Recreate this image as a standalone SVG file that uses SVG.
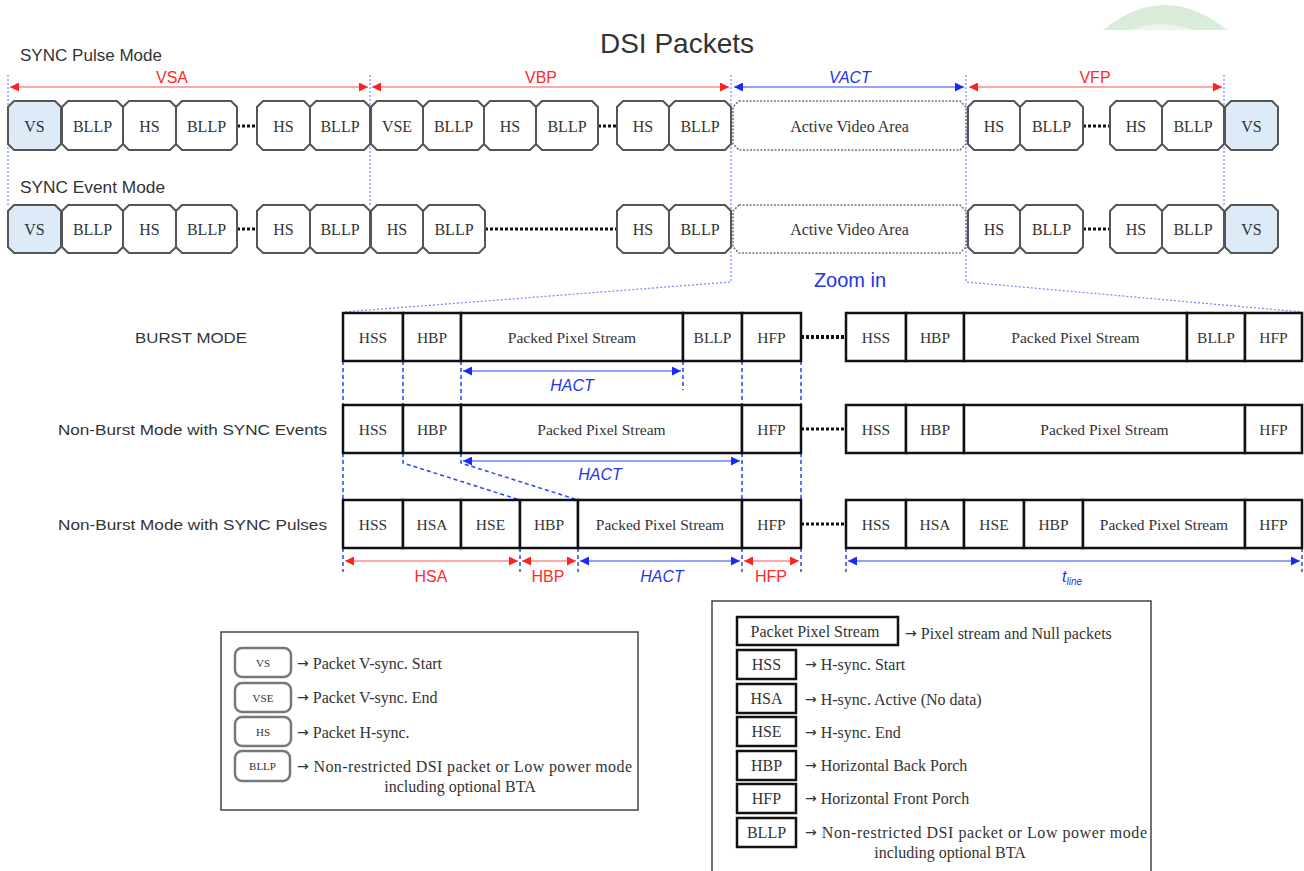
<svg xmlns="http://www.w3.org/2000/svg" width="1304" height="871" viewBox="0 0 1304 871">
<style>
.ob{fill:#fff;stroke:#555;stroke-width:2}
.vs{fill:#ddebf8;stroke:#555;stroke-width:2}
.av{fill:#fff;stroke:#777;stroke-width:1.6;stroke-dasharray:2 1.5}
.bt{font-family:"Liberation Serif","Times New Roman",serif;font-size:16px;fill:#333;text-anchor:middle;dominant-baseline:central}
.zb{fill:#fff;stroke:#111;stroke-width:2.5}
.zt{font-family:"Liberation Serif","Times New Roman",serif;font-size:15.5px;fill:#333;text-anchor:middle;dominant-baseline:central}
.sans{font-family:"Liberation Sans",Arial,sans-serif;fill:#333}
.red{font-family:"Liberation Sans",Arial,sans-serif;font-size:16px;fill:#ff2a2a;text-anchor:middle}
.blu{font-family:"Liberation Sans",Arial,sans-serif;font-size:16px;fill:#2233ee;text-anchor:middle;font-style:italic}
.dots{stroke:#111;stroke-width:3;stroke-dasharray:3 2;fill:none}
.guide{stroke:#6f86ff;stroke-width:1.2;stroke-dasharray:2 2;fill:none}
.dash{stroke:#2244ff;stroke-width:1.5;stroke-dasharray:4 3;fill:none}
.ar{stroke:#ff5050;stroke-width:1.2;fill:none;marker-start:url(#mr);marker-end:url(#mr)}
.ab{stroke:#3344ff;stroke-width:1.2;fill:none;marker-start:url(#mb);marker-end:url(#mb)}
.lg{fill:#fff;stroke:#444;stroke-width:1.5}
.lb{fill:#fff;stroke:#777;stroke-width:2.5}
.lz{fill:#fff;stroke:#111;stroke-width:2.5}
.lt{font-family:"Liberation Serif","Times New Roman",serif;font-size:16px;fill:#333;dominant-baseline:central}
.arw{font-family:"DejaVu Sans",sans-serif;font-size:14px}
.lst{font-family:"Liberation Serif","Times New Roman",serif;font-size:11px;fill:#333;text-anchor:middle;dominant-baseline:central}
</style>
<defs>
<marker id="mr" viewBox="0 0 10 10" refX="10" refY="5" markerWidth="11" markerHeight="9" markerUnits="userSpaceOnUse" orient="auto-start-reverse"><path d="M0,0L10,5L0,10z" fill="#ff2020"/></marker>
<marker id="mb" viewBox="0 0 10 10" refX="10" refY="5" markerWidth="11" markerHeight="9" markerUnits="userSpaceOnUse" orient="auto-start-reverse"><path d="M0,0L10,5L0,10z" fill="#1a2aff"/></marker>
</defs>
<rect width="1304" height="871" fill="#fff"/>
<g id="watermark">
<path d="M1103,30 Q1165,-20 1227,30 Z" fill="#d9ecd9"/>
<path d="M1130,30 Q1162,18 1192,30 Z" fill="#eef3ee"/>
</g>
<text x="677" y="53" class="sans" font-size="28" text-anchor="middle" fill="#222">DSI Packets</text>
<text x="20" y="61" class="sans" font-size="16" textLength="142" lengthAdjust="spacingAndGlyphs">SYNC Pulse Mode</text>
<text x="20" y="193" class="sans" font-size="16" textLength="145" lengthAdjust="spacingAndGlyphs">SYNC Event Mode</text>
<text x="850" y="287" class="sans" font-size="20" text-anchor="middle" style="fill:#2233ee">Zoom in</text>

<g id="connectors">
<path class="guide" d="M8,75V205M370,75V205M731,75V282L343,312M966,75V282L1302,312M1224,75V205"/>
<line class="ar" x1="10" y1="87" x2="368" y2="87"/>
<line class="ar" x1="372" y1="87" x2="729" y2="87"/>
<line class="ab" x1="734" y1="87" x2="964" y2="87"/>
<line class="ar" x1="969" y1="87" x2="1222" y2="87"/>
<text class="red" x="172" y="83">VSA</text>
<text class="red" x="541" y="83">VBP</text>
<text class="blu" x="850" y="83">VACT</text>
<text class="red" x="1095" y="83">VFP</text>
<path class="dots" d="M237,126H257M598,126H617M1083,126H1110M237,229H257M485,229H617M1083,229H1110"/>
<path class="dots" d="M801,337H845" style="stroke-width:4"/>
<path class="dots" d="M801,429H845M801,524H845"/>
<path class="dash" d="M343,361V405M403,361V405M461,361V405M742,361V405M801,361V405M683,361V390"/>
<path class="dash" d="M343,453V500M742,453V500M801,453V500M403,453V463L520,500M461,453V463L578,500"/>
<path class="dash" d="M343,548V572M520,548V572M578,548V572M742,548V572M801,548V572M846,548V572M1302,548V572"/>
<line class="ab" x1="463" y1="371" x2="681" y2="371"/>
<line class="ab" x1="463" y1="461" x2="740" y2="461"/>
<line class="ar" x1="345" y1="561" x2="518" y2="561"/>
<line class="ar" x1="522" y1="561" x2="576" y2="561"/>
<line class="ab" x1="580" y1="561" x2="740" y2="561"/>
<line class="ar" x1="744" y1="561" x2="799" y2="561"/>
<line class="ab" x1="848" y1="561" x2="1300" y2="561"/>
<text class="blu" x="572" y="391">HACT</text>
<text class="blu" x="600" y="480">HACT</text>
<text class="red" x="431" y="582">HSA</text>
<text class="red" x="548" y="582">HBP</text>
<text class="blu" x="662" y="582">HACT</text>
<text class="red" x="771" y="582">HFP</text>
<text class="blu" x="1072" y="582">t<tspan font-size="10" dy="3">line</tspan></text>
</g>

<g id="row-sync-pulse">
<path class="vs" d="M14,101h41l6,6v37l-6,6h-41l-6,-6v-37z"/><text class="bt" x="34.5" y="126">VS</text>
<path class="ob" d="M68,101h49l6,6v37l-6,6h-49l-6,-6v-37z"/><text class="bt" x="92.5" y="126">BLLP</text>
<path class="ob" d="M129,101h41l6,6v37l-6,6h-41l-6,-6v-37z"/><text class="bt" x="149.5" y="126">HS</text>
<path class="ob" d="M182,101h49l6,6v37l-6,6h-49l-6,-6v-37z"/><text class="bt" x="206.5" y="126">BLLP</text>
<path class="ob" d="M263,101h41l6,6v37l-6,6h-41l-6,-6v-37z"/><text class="bt" x="283.5" y="126">HS</text>
<path class="ob" d="M316,101h48l6,6v37l-6,6h-48l-6,-6v-37z"/><text class="bt" x="340" y="126">BLLP</text>
<path class="ob" d="M377,101h40l6,6v37l-6,6h-40l-6,-6v-37z"/><text class="bt" x="397" y="126">VSE</text>
<path class="ob" d="M429,101h49l6,6v37l-6,6h-49l-6,-6v-37z"/><text class="bt" x="453.5" y="126">BLLP</text>
<path class="ob" d="M490,101h40l6,6v37l-6,6h-40l-6,-6v-37z"/><text class="bt" x="510" y="126">HS</text>
<path class="ob" d="M542,101h50l6,6v37l-6,6h-50l-6,-6v-37z"/><text class="bt" x="567" y="126">BLLP</text>
<path class="ob" d="M623,101h40l6,6v37l-6,6h-40l-6,-6v-37z"/><text class="bt" x="643" y="126">HS</text>
<path class="ob" d="M675,101h50l6,6v37l-6,6h-50l-6,-6v-37z"/><text class="bt" x="700" y="126">BLLP</text>
<path class="av" d="M739,101h221l6,6v37l-6,6h-221l-6,-6v-37z"/><text class="bt" x="849.5" y="126">Active Video Area</text>
<path class="ob" d="M974,101h40l6,6v37l-6,6h-40l-6,-6v-37z"/><text class="bt" x="994" y="126">HS</text>
<path class="ob" d="M1026,101h51l6,6v37l-6,6h-51l-6,-6v-37z"/><text class="bt" x="1051.5" y="126">BLLP</text>
<path class="ob" d="M1116,101h40l6,6v37l-6,6h-40l-6,-6v-37z"/><text class="bt" x="1136" y="126">HS</text>
<path class="ob" d="M1168,101h50l6,6v37l-6,6h-50l-6,-6v-37z"/><text class="bt" x="1193" y="126">BLLP</text>
<path class="vs" d="M1231,101h41l6,6v37l-6,6h-41l-6,-6v-37z"/><text class="bt" x="1251.5" y="126">VS</text>
</g>

<g id="row-sync-event">
<path class="vs" d="M14,205h41l6,6v36l-6,6h-41l-6,-6v-36z"/><text class="bt" x="34.5" y="229">VS</text>
<path class="ob" d="M68,205h49l6,6v36l-6,6h-49l-6,-6v-36z"/><text class="bt" x="92.5" y="229">BLLP</text>
<path class="ob" d="M129,205h41l6,6v36l-6,6h-41l-6,-6v-36z"/><text class="bt" x="149.5" y="229">HS</text>
<path class="ob" d="M182,205h49l6,6v36l-6,6h-49l-6,-6v-36z"/><text class="bt" x="206.5" y="229">BLLP</text>
<path class="ob" d="M263,205h41l6,6v36l-6,6h-41l-6,-6v-36z"/><text class="bt" x="283.5" y="229">HS</text>
<path class="ob" d="M316,205h48l6,6v36l-6,6h-48l-6,-6v-36z"/><text class="bt" x="340" y="229">BLLP</text>
<path class="ob" d="M377,205h40l6,6v36l-6,6h-40l-6,-6v-36z"/><text class="bt" x="397" y="229">HS</text>
<path class="ob" d="M429,205h50l6,6v36l-6,6h-50l-6,-6v-36z"/><text class="bt" x="454" y="229">BLLP</text>
<path class="ob" d="M623,205h40l6,6v36l-6,6h-40l-6,-6v-36z"/><text class="bt" x="643" y="229">HS</text>
<path class="ob" d="M675,205h50l6,6v36l-6,6h-50l-6,-6v-36z"/><text class="bt" x="700" y="229">BLLP</text>
<path class="av" d="M739,205h221l6,6v36l-6,6h-221l-6,-6v-36z"/><text class="bt" x="849.5" y="229">Active Video Area</text>
<path class="ob" d="M974,205h40l6,6v36l-6,6h-40l-6,-6v-36z"/><text class="bt" x="994" y="229">HS</text>
<path class="ob" d="M1026,205h51l6,6v36l-6,6h-51l-6,-6v-36z"/><text class="bt" x="1051.5" y="229">BLLP</text>
<path class="ob" d="M1116,205h40l6,6v36l-6,6h-40l-6,-6v-36z"/><text class="bt" x="1136" y="229">HS</text>
<path class="ob" d="M1168,205h50l6,6v36l-6,6h-50l-6,-6v-36z"/><text class="bt" x="1193" y="229">BLLP</text>
<path class="vs" d="M1231,205h41l6,6v36l-6,6h-41l-6,-6v-36z"/><text class="bt" x="1251.5" y="229">VS</text>
</g>

<g id="burst-mode">
<text x="135" y="343" class="sans" font-size="15.5" textLength="112" lengthAdjust="spacingAndGlyphs">BURST MODE</text>
<rect class="zb" x="343" y="313" width="60" height="48"/><text class="zt" x="373" y="337">HSS</text>
<rect class="zb" x="403" y="313" width="58" height="48"/><text class="zt" x="432" y="337">HBP</text>
<rect class="zb" x="461" y="313" width="222" height="48"/><text class="zt" x="572" y="337">Packed Pixel Stream</text>
<rect class="zb" x="683" y="313" width="59" height="48"/><text class="zt" x="712.5" y="337">BLLP</text>
<rect class="zb" x="742" y="313" width="59" height="48"/><text class="zt" x="771.5" y="337">HFP</text>
<rect class="zb" x="846" y="313" width="60" height="48"/><text class="zt" x="876" y="337">HSS</text>
<rect class="zb" x="906" y="313" width="58" height="48"/><text class="zt" x="935" y="337">HBP</text>
<rect class="zb" x="964" y="313" width="223" height="48"/><text class="zt" x="1075.5" y="337">Packed Pixel Stream</text>
<rect class="zb" x="1187" y="313" width="58" height="48"/><text class="zt" x="1216" y="337">BLLP</text>
<rect class="zb" x="1245" y="313" width="57" height="48"/><text class="zt" x="1273.5" y="337">HFP</text>
</g>

<g id="non-burst-events">
<text x="58" y="435" class="sans" font-size="15.5" textLength="269" lengthAdjust="spacingAndGlyphs">Non-Burst Mode with SYNC Events</text>
<rect class="zb" x="343" y="405" width="60" height="48"/><text class="zt" x="373" y="429">HSS</text>
<rect class="zb" x="403" y="405" width="58" height="48"/><text class="zt" x="432" y="429">HBP</text>
<rect class="zb" x="461" y="405" width="281" height="48"/><text class="zt" x="601.5" y="429">Packed Pixel Stream</text>
<rect class="zb" x="742" y="405" width="59" height="48"/><text class="zt" x="771.5" y="429">HFP</text>
<rect class="zb" x="846" y="405" width="60" height="48"/><text class="zt" x="876" y="429">HSS</text>
<rect class="zb" x="906" y="405" width="58" height="48"/><text class="zt" x="935" y="429">HBP</text>
<rect class="zb" x="964" y="405" width="281" height="48"/><text class="zt" x="1104.5" y="429">Packed Pixel Stream</text>
<rect class="zb" x="1245" y="405" width="57" height="48"/><text class="zt" x="1273.5" y="429">HFP</text>
</g>

<g id="non-burst-pulses">
<text x="58" y="530" class="sans" font-size="15.5" textLength="269" lengthAdjust="spacingAndGlyphs">Non-Burst Mode with SYNC Pulses</text>
<rect class="zb" x="343" y="500" width="60" height="48"/><text class="zt" x="373" y="524">HSS</text>
<rect class="zb" x="403" y="500" width="58" height="48"/><text class="zt" x="432" y="524">HSA</text>
<rect class="zb" x="461" y="500" width="59" height="48"/><text class="zt" x="490.5" y="524">HSE</text>
<rect class="zb" x="520" y="500" width="58" height="48"/><text class="zt" x="549" y="524">HBP</text>
<rect class="zb" x="578" y="500" width="164" height="48"/><text class="zt" x="660" y="524">Packed Pixel Stream</text>
<rect class="zb" x="742" y="500" width="59" height="48"/><text class="zt" x="771.5" y="524">HFP</text>
<rect class="zb" x="846" y="500" width="60" height="48"/><text class="zt" x="876" y="524">HSS</text>
<rect class="zb" x="906" y="500" width="58" height="48"/><text class="zt" x="935" y="524">HSA</text>
<rect class="zb" x="964" y="500" width="60" height="48"/><text class="zt" x="994" y="524">HSE</text>
<rect class="zb" x="1024" y="500" width="59" height="48"/><text class="zt" x="1053.5" y="524">HBP</text>
<rect class="zb" x="1083" y="500" width="162" height="48"/><text class="zt" x="1164" y="524">Packed Pixel Stream</text>
<rect class="zb" x="1245" y="500" width="57" height="48"/><text class="zt" x="1273.5" y="524">HFP</text>
</g>

<g id="legend-left">
<rect class="lg" x="221" y="632" width="417" height="178"/>
<rect class="lb" x="235" y="648" width="56" height="29" rx="7"/><text class="lst" x="263" y="662.5">VS</text>
<text class="lt" x="297" y="663"><tspan class="arw">→</tspan> Packet V-sync. Start</text>
<rect class="lb" x="235" y="683" width="56" height="29" rx="7"/><text class="lst" x="263" y="697.5">VSE</text>
<text class="lt" x="297" y="697"><tspan class="arw">→</tspan> Packet V-sync. End</text>
<rect class="lb" x="235" y="717" width="56" height="29" rx="7"/><text class="lst" x="263" y="731.5">HS</text>
<text class="lt" x="297" y="732"><tspan class="arw">→</tspan> Packet H-sync.</text>
<rect class="lb" x="235" y="751" width="55" height="30" rx="7"/><text class="lst" x="262.5" y="766">BLLP</text>
<text class="lt" x="297" y="766" textLength="335" lengthAdjust="spacing"><tspan class="arw">→</tspan> Non-restricted DSI packet or Low power mode</text>
<text class="lt" x="460" y="786" text-anchor="middle">including optional BTA</text>
</g>

<g id="legend-right">
<rect class="lg" x="712" y="601" width="439" height="280"/>
<rect class="lz" x="737" y="617" width="161" height="28"/><text class="lt" x="815" y="631" text-anchor="middle">Packet Pixel Stream</text>
<text class="lt" x="905" y="633"><tspan class="arw">→</tspan> Pixel stream and Null packets</text>
<rect class="lz" x="737" y="650" width="59" height="29"/><text class="lt" x="766.5" y="664.5" text-anchor="middle">HSS</text>
<text class="lt" x="805" y="664"><tspan class="arw">→</tspan> H-sync. Start</text>
<rect class="lz" x="737" y="684" width="59" height="29"/><text class="lt" x="766.5" y="698.5" text-anchor="middle">HSA</text>
<text class="lt" x="805" y="699"><tspan class="arw">→</tspan> H-sync. Active (No data)</text>
<rect class="lz" x="737" y="717" width="59" height="29"/><text class="lt" x="766.5" y="731.5" text-anchor="middle">HSE</text>
<text class="lt" x="805" y="732"><tspan class="arw">→</tspan> H-sync. End</text>
<rect class="lz" x="737" y="751" width="59" height="29"/><text class="lt" x="766.5" y="765.5" text-anchor="middle">HBP</text>
<text class="lt" x="805" y="765"><tspan class="arw">→</tspan> Horizontal Back Porch</text>
<rect class="lz" x="737" y="784" width="59" height="29"/><text class="lt" x="766.5" y="798.5" text-anchor="middle">HFP</text>
<text class="lt" x="805" y="798"><tspan class="arw">→</tspan> Horizontal Front Porch</text>
<rect class="lz" x="737" y="818" width="59" height="29"/><text class="lt" x="766.5" y="832.5" text-anchor="middle">BLLP</text>
<text class="lt" x="805" y="832" textLength="342" lengthAdjust="spacing"><tspan class="arw">→</tspan> Non-restricted DSI packet or Low power mode</text>
<text class="lt" x="950" y="852" text-anchor="middle">including optional BTA</text>
</g>
</svg>
